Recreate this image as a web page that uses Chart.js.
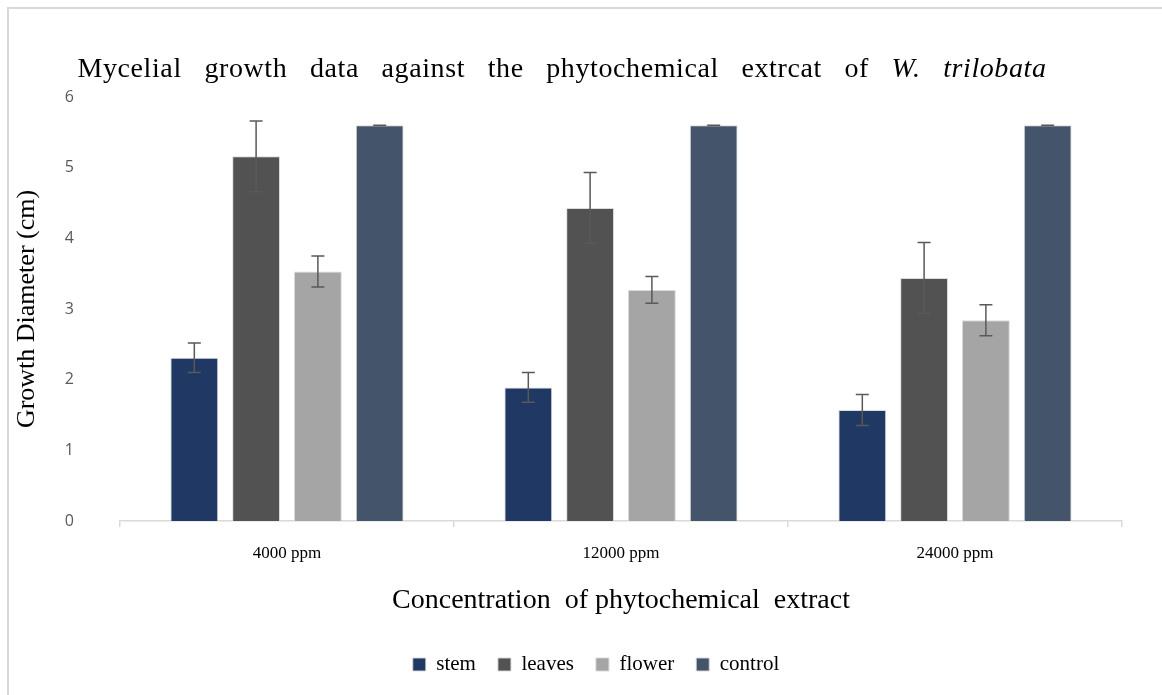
<!DOCTYPE html>
<html>
<head>
<meta charset="utf-8">
<script src="https://cdn.jsdelivr.net/npm/chart.js@4.4.1/dist/chart.umd.min.js"></script>
<style>
  html, body { margin: 0; padding: 0; background: #fff; }
  #wrap { width: 1162px; height: 695px; position: relative; }
</style>
</head>
<body>
<div id="wrap"><canvas id="growthChart" width="1162" height="695"></canvas></div>
<script>
const categories = ['4000 ppm', '12000 ppm', '24000 ppm'];
const seriesNames = ['stem', 'leaves', 'flower', 'control'];
const stemValues = [2.31, 1.89, 1.57];
const leavesValues = [5.16, 4.43, 3.44];
const flowerValues = [3.53, 3.27, 2.84];
const controlValues = [5.6, 5.6, 5.6];
const stemErrors = [0.21, 0.21, 0.22];
const leavesErrors = [0.5, 0.5, 0.5];
const flowerErrors = [0.22, 0.19, 0.22];
const controlErrors = [0, 0, 0];
const yTicks = [0, 1, 2, 3, 4, 5, 6];

const colors = ['#203864', '#525252', '#a5a5a5', '#44546a'];
const serif = '"Liberation Serif", "Times New Roman", serif';

// title has an italic part, so it is drawn by hand in the top padding
const titlePlugin = {
    id: 'mixedTitle',
    afterDraw(chart) {
        const ctx = chart.ctx;
        const plain = 'Mycelial growth data against the phytochemical extrcat of ';
        const ital = 'W. trilobata';
        ctx.save();
        ctx.fillStyle = '#000';
        ctx.textBaseline = 'alphabetic';
        ctx.textAlign = 'left';
        ctx.letterSpacing = '0.6px';
        ctx.wordSpacing = '15px';
        ctx.font = '28px ' + serif;
        const w1 = ctx.measureText(plain).width;
        ctx.font = 'italic 28px ' + serif;
        const w2 = ctx.measureText(ital).width;
        const x = 562 - (w1 + w2) / 2;
        ctx.font = '28px ' + serif;
        ctx.fillText(plain, x, 77);
        ctx.font = 'italic 28px ' + serif;
        ctx.fillText(ital, x + w1, 77);
        ctx.restore();
    }
};

const framePlugin = {
    id: 'frame',
    beforeDraw(chart) {
        const ctx = chart.ctx;
        ctx.save();
        ctx.fillStyle = '#fff';
        ctx.fillRect(0, 0, chart.width, chart.height);
        ctx.strokeStyle = '#d9d9d9';
        ctx.lineWidth = 2;
        ctx.beginPath();
        ctx.moveTo(8, chart.height);
        ctx.lineTo(8, 8);
        ctx.lineTo(chart.width, 8);
        ctx.stroke();
        ctx.restore();
    },
    afterLayout(chart) {
        // legend sits a little right of the plot centre in the original
        const lg = chart.legend;
        const shift = 596 - (lg.left + lg.right) / 2;
        lg.left += shift;
        lg.right += shift;
    }
};

const errorBarPlugin = {
    id: 'errorBars',
    afterDatasetsDraw(chart) {
        const ctx = chart.ctx;
        const yScale = chart.scales.y;
        ctx.save();
        ctx.strokeStyle = '#595959';
        ctx.lineWidth = 1.5;
        chart.data.datasets.forEach((ds, i) => {
            const meta = chart.getDatasetMeta(i);
            meta.data.forEach((bar, j) => {
                const v = ds.data[j];
                const e = ds.errors[j];
                const top = yScale.getPixelForValue(v + e);
                const bot = yScale.getPixelForValue(v - e);
                ctx.beginPath();
                ctx.moveTo(bar.x, top);
                ctx.lineTo(bar.x, bot);
                ctx.moveTo(bar.x - 6.5, top);
                ctx.lineTo(bar.x + 6.5, top);
                ctx.moveTo(bar.x - 6.5, bot);
                ctx.lineTo(bar.x + 6.5, bot);
                ctx.stroke();
            });
        });
        ctx.restore();
    }
};

function makeSet(i, data, errors) {
    return {
        label: seriesNames[i],
        data: data,
        errors: errors,
        backgroundColor: colors[i],
        borderColor: 'rgba(215,215,215,0.9)',
        borderWidth: 1,
        categoryPercentage: 0.74,
        barPercentage: 0.774
    };
}

const ctx = document.getElementById('growthChart').getContext('2d');
new Chart(ctx, {
    type: 'bar',
    data: {
        labels: categories,
        datasets: [
            makeSet(0, stemValues, stemErrors),
            makeSet(1, leavesValues, leavesErrors),
            makeSet(2, flowerValues, flowerErrors),
            makeSet(3, controlValues, controlErrors)
        ]
    },
    options: {
        responsive: false,
        animation: false,
        layout: { padding: { left: 8, right: 40, top: 97, bottom: 10 } },
        plugins: {
            legend: {
                position: 'bottom',
                labels: {
                    boxWidth: 13,
                    boxHeight: 13,
                    padding: 22,
                    color: '#000',
                    font: { family: serif, size: 21 }
                }
            },
            title: { display: false },
            tooltip: { enabled: false }
        },
        scales: {
            x: {
                grid: {
                    display: true,
                    drawOnChartArea: false,
                    drawTicks: true,
                    tickLength: 6,
                    color: '#d9d9d9',
                    lineWidth: 1.5
                },
                border: { display: true, color: '#d9d9d9', width: 1.5 },
                ticks: { color: '#000', padding: 16, font: { family: serif, size: 17 } },
                title: {
                    display: true,
                    text: 'Concentration  of phytochemical  extract',
                    color: '#000',
                    font: { family: serif, size: 28 },
                    padding: { top: 0, bottom: 15 }
                },
                afterFit(scale) { scale.height = 111; }
            },
            y: {
                min: 0,
                max: 6,
                afterBuildTicks(scale) { scale.ticks = yTicks.map(v => ({ value: v })); },
                grid: { display: false },
                border: { display: false },
                ticks: { color: '#595959', padding: 38, font: { family: '"Open Sans", sans-serif', size: 16 } },
                title: {
                    display: true,
                    text: 'Growth Diameter (cm)',
                    color: '#000',
                    font: { family: serif, size: 26 },
                    padding: { top: 4, bottom: 0 }
                },
                afterFit(scale) { scale.width = 112; }
            }
        }
    },
    plugins: [framePlugin, errorBarPlugin, titlePlugin]
});
</script>
</body>
</html>
